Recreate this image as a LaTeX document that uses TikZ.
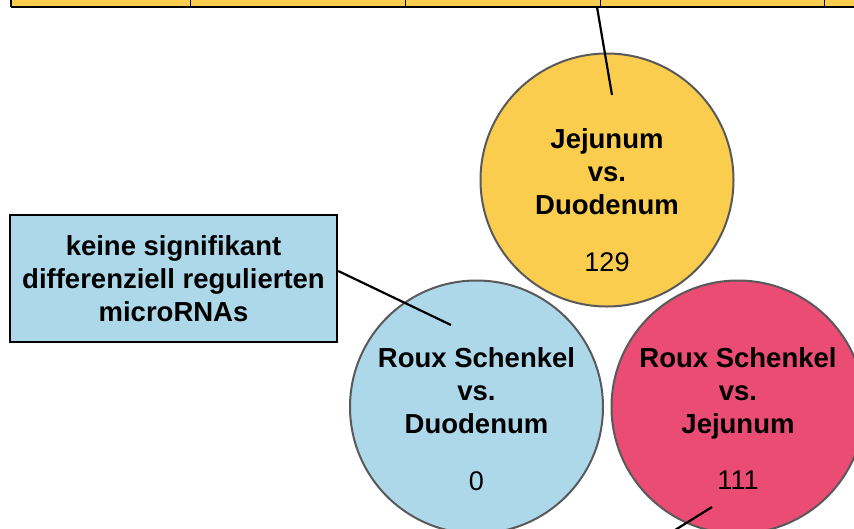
\documentclass[tikz,border=0pt]{standalone}
\usepackage{fontspec}
\setmainfont{Liberation Sans}
\definecolor{jejgelb}{HTML}{FBCD4F}
\definecolor{duoblau}{HTML}{ADD8EA}
\definecolor{rouxrot}{HTML}{EA4C73}
\definecolor{randgrau}{HTML}{595959}

\begin{document}
\begin{tikzpicture}[x=1pt,y=-1pt,
    vergleich/.style={circle,draw=randgrau,line width=2pt,minimum size=253pt,inner sep=0pt},
    titel/.style={font=\fontsize{27.5}{33}\selectfont\bfseries,align=center,inner sep=0pt},
    zahl/.style={font=\fontsize{27}{27}\selectfont,inner sep=0pt},
    zelle/.style={draw=black,line width=1pt,fill=jejgelb,minimum height=40pt,inner sep=0pt,anchor=south west},
    linie/.style={draw=black,line width=2.2pt}]
    \useasboundingbox (0,0) rectangle (854,528);
    \begin{scope}
	\foreach \n/\links/\rechts in {1/11/190,2/190/405,3/405/600,4/600/824,5/824/1000}
	    \node [zelle,minimum width=\rechts-\links] (zelle\n) at (\links,7) {};
	\draw [line width=2.5pt] (zelle1.south west) -- (zelle5.south east);
	\draw [line width=2.5pt] (zelle1.south west) -- (zelle1.north west);
    \end{scope}
    \node [vergleich,fill=jejgelb] (jejduo) at (607,180) {};
    \node [vergleich,fill=duoblau] (rouxduo) at (476.5,407) {};
    \node [vergleich,fill=rouxrot] (rouxjej) at (738,407) {};
    \node [titel] (jejduotitel) at (607,172) {Jejunum\\vs.\\Duodenum};
    \node [zahl] (jejduozahl) at (607,262) {129};
    \node [titel] (rouxduotitel) at (476.5,391) {Roux Schenkel\\vs.\\Duodenum};
    \node [zahl] (rouxduozahl) at (476.5,481) {0};
    \node [titel] (rouxjejtitel) at (738,393) {Roux Schenkel\\vs.\\Jejunum};
    \node [zahl] (rouxjejzahl) at (738,480) {111};
    \node [draw=black,line width=2.5pt,fill=duoblau,minimum width=327pt,minimum height=127pt,
	   titel] (hinweis) at (173.5,278.5) {keine signifikant\\differenziell regulierten\\microRNAs};
    \coordinate (jejduoende) at (612,95);
    \coordinate (rouxduoende) at (451,325);
    \coordinate (rouxjejende) at (651,545);
    \draw [linie] ([xshift=-4pt]zelle3.south east) -- (jejduoende);
    \draw [linie] ([yshift=7.5pt]hinweis.east) -- (rouxduoende);
    \draw [linie] (712,507) -- (rouxjejende);
\end{tikzpicture}
\end{document}
